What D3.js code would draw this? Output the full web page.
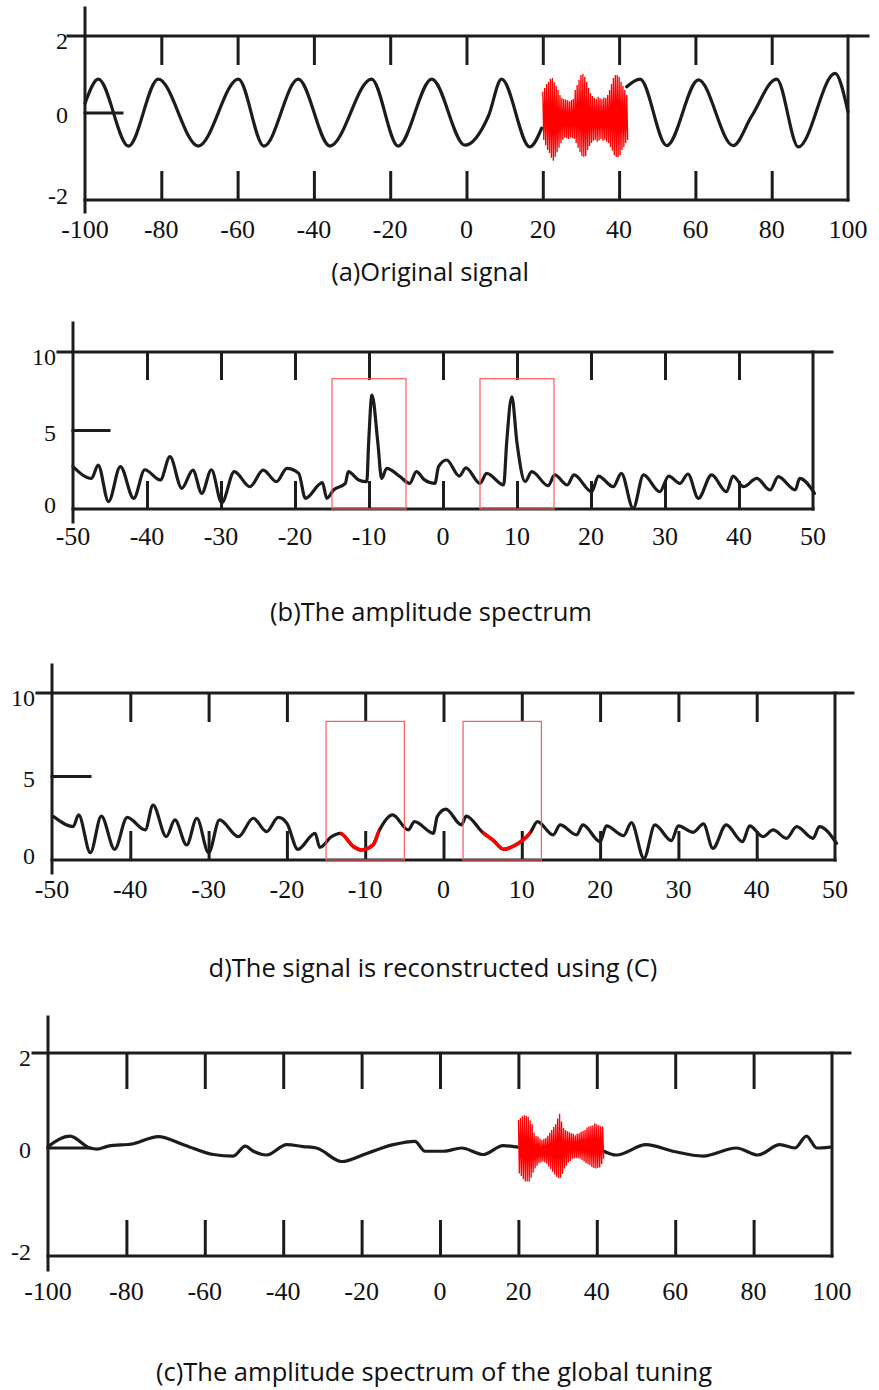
<!DOCTYPE html>
<html>
<head>
<meta charset="utf-8">
<script src="https://cdnjs.cloudflare.com/ajax/libs/d3/7.8.5/d3.min.js"></script>
<style>
    body { margin: 0; background: #fff; }
    .lbl { font-family: "Liberation Serif", "Times New Roman", serif; fill: #111; }
    .cap { font-family: "Open Sans", sans-serif; fill: #111; }
</style>
</head>
<body>
<div id="chart"></div>
<script>
// ---- data ----
var ticksWide = [-100, -80, -60, -40, -20, 0, 20, 40, 60, 80, 100];
var ticksNarrow = [-50, -40, -30, -20, -10, 0, 10, 20, 30, 40, 50];
var yTicksSignal = [-2, 0, 2];
var yTicksSpec = [0, 5, 10];

// (a) original signal, black part (null = where the red burst is)
var signalA = [[-100, 0.25], [-96.5, 0.88], [-88.6, -0.76], [-80.8, 0.88], [-70.3, -0.76], [-59.8, 0.88],
    [-53.1, -0.76], [-44.1, 0.88], [-35.8, -0.76], [-24.9, 0.88], [-17.9, -0.76], [-9.1, 0.88],
    [-0.4, -0.74], [5.7, -0.08], [9.2, 0.88], [16.6, -0.78], [19.7, -0.35], null,
    [42.0, 0.68], [45.5, 0.88], [52.5, -0.75], [60.8, 0.86], [69.9, -0.75], [74.7, -0.08],
    [81.3, 0.88], [87.0, -0.78], [96.6, 1.03], [100, 0.03]];

// red burst envelope, sampled every 0.5 from x = 20
var burstStart = 20, burstStep = 0.5;
var burstUpperA = [0.55, 0.65, 0.75, 0.81, 0.88, 0.91, 0.80, 0.70, 0.60, 0.47, 0.39, 0.36, 0.35, 0.33, 0.30,
    0.34, 0.36, 0.60, 0.73, 0.86, 0.99, 1.01, 0.94, 0.81, 0.65, 0.52, 0.44, 0.39, 0.37, 0.42,
    0.38, 0.36, 0.40, 0.39, 0.47, 0.60, 0.75, 0.91, 0.99, 0.99, 0.94, 0.81, 0.70, 0.60, 0.47];
var burstLowerA = [-0.62, -0.74, -0.85, -0.92, -1.03, -1.10, -1.01, -0.90, -0.80, -0.69, -0.62, -0.57, -0.58, -0.60, -0.56,
    -0.58, -0.60, -0.69, -0.80, -0.90, -0.99, -1.01, -0.99, -0.85, -0.76, -0.69, -0.64, -0.62, -0.66, -0.63,
    -0.60, -0.64, -0.62, -0.66, -0.69, -0.78, -0.87, -0.97, -1.01, -1.01, -0.97, -0.85, -0.78, -0.69, -0.62];

// (b) amplitude spectrum
var spectrumB = [[-50, 2.7], [-47.5, 1.95], [-46.6, 2.8], [-45.2, 0.47], [-43.6, 2.7], [-41.8, 0.68], [-40.3, 2.5],
    [-38.2, 1.85], [-36.9, 3.33], [-35.3, 1.32], [-33.8, 2.48], [-32.6, 1.0], [-31.3, 2.5], [-29.9, 0.4],
    [-28.2, 2.38], [-26.1, 1.42], [-24.3, 2.48], [-22.5, 1.74], [-21.1, 2.59], [-19.5, 2.27], [-18.6, 0.68],
    [-16.3, 1.68], [-15.7, 0.68], [-14.8, 1.21], [-13.2, 1.63], [-12.8, 2.38], [-11.4, 1.85], [-10.3, 1.74],
    [-10.05, 4.2], [-9.6, 7.26], [-8.8, 4.2], [-8.3, 1.95], [-7.6, 2.59], [-5.8, 2.06], [-4.5, 1.63], [-3.6, 2.38],
    [-2.5, 1.85], [-1.1, 1.63], [-0.6, 2.7], [0.5, 3.12], [2.2, 2.1], [3.1, 2.62], [5.0, 1.63], [5.9, 2.27],
    [8.2, 1.53], [8.6, 4.2], [9.3, 7.15], [10.0, 4.2], [11.1, 1.74], [12.0, 2.38], [14.2, 1.49], [15.1, 2.17],
    [16.8, 1.53], [17.7, 2.17], [20.1, 1.1], [21.0, 2.1], [23.0, 1.42], [24.1, 2.27], [25.7, 0.04], [27.1, 2.17],
    [29.3, 1.1], [30.5, 2.1], [32.0, 1.63], [33.1, 2.23], [34.5, 0.68], [36.3, 2.17], [38.3, 1.1], [39.2, 2.1],
    [40.6, 1.42], [42.4, 1.95], [44.2, 1.21], [45.3, 2.06], [47.6, 1.21], [48.2, 1.95], [50.2, 1.0]];
var boxesB = [[-15, -5], [5, 15]];
var boxTop = 8.3;

// (d) reconstructed signal, red where the boxes cut it
var reconD = [[-49.8, 2.6], [-47.3, 2.0], [-46.6, 2.7], [-45.1, 0.44], [-43.7, 2.63], [-42.0, 0.64], [-40.4, 2.55],
    [-38.1, 1.8], [-37.1, 3.29], [-35.4, 1.4], [-34.3, 2.4], [-32.8, 0.9], [-31.5, 2.5], [-30.0, 0.44],
    [-28.6, 2.4], [-26.2, 1.4], [-24.3, 2.5], [-22.6, 1.7], [-21.1, 2.55], [-20.0, 2.2], [-18.6, 0.64],
    [-16.4, 1.6], [-15.8, 0.76], [-14.3, 1.4], [-13.2, 1.6], [-11.5, 0.8], [-10.5, 0.6], [-9.0, 0.9],
    [-8.2, 1.76], [-6.5, 2.7], [-4.5, 1.8], [-3.7, 2.3], [-1.3, 1.6], [-0.8, 2.6], [0.3, 3.05], [2.3, 2.1],
    [2.9, 2.63], [4.98, 1.66], [6.3, 1.2], [7.7, 0.64], [9.0, 0.85], [11.1, 1.64], [12.0, 2.3], [14.0, 1.5],
    [14.9, 2.1], [17.0, 1.5], [17.8, 2.1], [20.0, 1.1], [20.8, 2.04], [23.0, 1.46], [24.0, 2.24], [25.6, 0.1],
    [27.0, 2.1], [29.1, 1.16], [30.0, 2.04], [31.9, 1.66], [33.2, 2.16], [34.4, 0.7], [36.1, 2.1], [38.2, 1.1],
    [39.1, 2.04], [40.8, 1.4], [42.1, 1.8], [43.8, 1.3], [45.1, 2.0], [47.2, 1.3], [48.0, 2.0], [50.2, 1.0]];
var redRangesD = [[-13.2, -8.2], [4.98, 11.1]];
var boxesD = [[-15, -5], [2.5, 12.5]];

// (c) global tuning result
var tunedC = [[-100, 0.03], [-94.4, 0.25], [-89.3, 0.0], [-87.6, -0.02], [-84.6, 0.04], [-78.2, 0.09],
    [-71.9, 0.24], [-65.1, 0.06], [-57.8, -0.12], [-52.7, -0.15], [-49.7, 0.04], [-47.6, -0.06],
    [-44.2, -0.13], [-39.1, 0.07], [-34.9, 0.03], [-31.5, 0.0], [-25.1, -0.25], [-18.7, -0.1],
    [-11.9, 0.07], [-6.4, 0.14], [-3.8, -0.06], [0.9, -0.06], [5.5, 0.0], [11.0, -0.12], [16.1, 0.05],
    [19.8, 0.02], null, [41.5, -0.05], [45, -0.13], [52.6, 0.07], [59.4, -0.06], [67.1, -0.15],
    [75.6, 0.0], [81.1, -0.13], [86.7, 0.07], [90.5, 0.0], [93.5, 0.25], [96.1, 0.0], [99.5, 0.02]];
var burstUpperC = [0.59, 0.63, 0.67, 0.69, 0.68, 0.66, 0.58, 0.50, 0.32, 0.25, 0.24, 0.20, 0.17, 0.19, 0.21,
    0.26, 0.32, 0.38, 0.44, 0.50, 0.62, 0.72, 0.56, 0.42, 0.38, 0.35, 0.33, 0.31, 0.30, 0.27,
    0.30, 0.31, 0.34, 0.36, 0.38, 0.43, 0.45, 0.47, 0.48, 0.52, 0.50, 0.48, 0.46, 0.45];
var burstLowerC = [-0.47, -0.52, -0.58, -0.62, -0.62, -0.62, -0.55, -0.46, -0.38, -0.33, -0.28, -0.27, -0.25, -0.27, -0.29,
    -0.34, -0.39, -0.44, -0.49, -0.53, -0.56, -0.55, -0.48, -0.38, -0.33, -0.27, -0.24, -0.20, -0.19, -0.19,
    -0.19, -0.20, -0.22, -0.25, -0.28, -0.30, -0.32, -0.35, -0.37, -0.38, -0.37, -0.36, -0.30, -0.20];

var captions = ["(a)Original signal", "(b)The amplitude spectrum",
    "d)The signal is reconstructed using (C)", "(c)The amplitude spectrum of the global tuning"];

// ---- drawing ----
var ink = "#1c1c1c";
var svg = d3.select("#chart").append("svg").attr("width", 879).attr("height", 1390);
var defs = svg.append("defs");

function frame(p) {
    var g = svg.append("g");
    var x = d3.scaleLinear().domain(p.xDomain).range([p.left, p.right]);
    var y = d3.scaleLinear().domain(p.yDomain).range(p.yRange);
    var inner = p.xTicks.slice(1, -1);

    // inner ticks hanging from the top line and standing on the bottom line
    g.append("g").attr("transform", "translate(0," + p.top + ")")
        .call(d3.axisBottom(x).tickValues(inner).tickSize(p.tickLen).tickSizeOuter(0).tickFormat(""));
    g.append("g").attr("transform", "translate(0," + p.bottom + ")")
        .call(d3.axisTop(x).tickValues(inner).tickSize(p.tickLen).tickSizeOuter(0).tickFormat(""));
    g.selectAll(".domain").remove();
    g.selectAll(".tick line").attr("stroke", ink).attr("stroke-width", 3);

    var lines = [
        [p.lineStart, p.top, p.lineEnd, p.top],
        [p.left, p.bottom, p.right, p.bottom],
        [p.left, p.axisTop, p.left, p.axisBottom],
        [p.right, p.top, p.right, p.bottom],
        [p.left, y(p.yMark), p.left + p.yMarkLen, y(p.yMark)]
    ];
    g.selectAll(".fr").data(lines).enter().append("line")
        .attr("x1", function(d) { return d[0]; }).attr("y1", function(d) { return d[1]; })
        .attr("x2", function(d) { return d[2]; }).attr("y2", function(d) { return d[3]; })
        .attr("stroke", ink).attr("stroke-width", 3).attr("stroke-linecap", "square");

    g.selectAll(".xl").data(p.xTicks).enter().append("text")
        .attr("class", "lbl").attr("font-size", 26).attr("text-anchor", "middle")
        .attr("x", function(d) { return x(d); }).attr("y", p.labelBase)
        .text(function(d) { return d; });

    var yMin = d3.min(p.yTicks), yMax = d3.max(p.yTicks);
    g.selectAll(".yl").data(p.yTicks).enter().append("text")
        .attr("class", "lbl").attr("font-size", 24).attr("text-anchor", "end")
        .attr("x", p.left - 17)
        .attr("y", function(d) { return y(d) + (d === yMax ? 13 : d === yMin ? 4 : 10); })
        .text(function(d) { return d; });

    svg.append("text").attr("class", "cap").attr("font-size", 25.5).attr("text-anchor", "middle")
        .attr("x", p.capX).attr("y", p.capY).text(p.caption);

    return {x: x, y: y, g: g};
}

function curve(s, data, color, width) {
    var line = d3.line()
        .defined(function(d) { return d !== null; })
        .x(function(d) { return s.x(d[0]); })
        .y(function(d) { return s.y(d[1]); })
        .curve(d3.curveMonotoneX);
    return s.g.append("path").datum(data).attr("d", line)
        .attr("fill", "none").attr("stroke", color).attr("stroke-width", width)
        .attr("stroke-linejoin", "round").attr("stroke-linecap", "round");
}

function burst(s, upper, lower) {
    var pts = [];
    upper.forEach(function(u, i) {
        var bx = burstStart + i * burstStep;
        pts.push([bx, u]);
        pts.push([bx + burstStep / 2, lower[i]]);
    });
    s.g.append("path").datum(pts)
        .attr("d", d3.line().x(function(d) { return s.x(d[0]); }).y(function(d) { return s.y(d[1]); }))
        .attr("fill", "none").attr("stroke", "#ff0000").attr("stroke-width", 1.3);
}

function boxes(s, list) {
    s.g.selectAll(".box").data(list).enter().append("rect")
        .attr("x", function(d) { return s.x(d[0]); })
        .attr("y", s.y(boxTop))
        .attr("width", function(d) { return s.x(d[1]) - s.x(d[0]); })
        .attr("height", s.y(0) - s.y(boxTop))
        .attr("fill", "none").attr("stroke", "#ff5a5a").attr("stroke-width", 1.2);
}

// (a)
var pa = frame({xDomain: [-100, 100], yDomain: [-2, 0, 2], yRange: [200, 113, 36],
    left: 85, right: 848, top: 36, bottom: 200, axisTop: 8, axisBottom: 212,
    lineStart: 68, lineEnd: 868, tickLen: 29, xTicks: ticksWide, yTicks: yTicksSignal,
    yMark: 0, yMarkLen: 37, labelBase: 238, caption: captions[0], capX: 430, capY: 281});
curve(pa, signalA, ink, 3.2);
burst(pa, burstUpperA, burstLowerA);

// (b)
var pb = frame({xDomain: [-50, 50], yDomain: [0, 10], yRange: [509, 352],
    left: 73, right: 813, top: 352, bottom: 509, axisTop: 323, axisBottom: 522,
    lineStart: 58, lineEnd: 832, tickLen: 28, xTicks: ticksNarrow, yTicks: yTicksSpec,
    yMark: 5, yMarkLen: 36, labelBase: 545, caption: captions[1], capX: 431, capY: 621});
curve(pb, spectrumB, ink, 3.2);
boxes(pb, boxesB);

// (d)
var pd = frame({xDomain: [-50, 50], yDomain: [0, 10], yRange: [860, 693],
    left: 52, right: 835, top: 693, bottom: 860, axisTop: 665, axisBottom: 873,
    lineStart: 37, lineEnd: 853, tickLen: 29, xTicks: ticksNarrow, yTicks: yTicksSpec,
    yMark: 5, yMarkLen: 38, labelBase: 898, caption: captions[2], capX: 433, capY: 977});
curve(pd, reconD, ink, 3.2);
var clip = defs.append("clipPath").attr("id", "redpart");
clip.selectAll("rect").data(redRangesD).enter().append("rect")
    .attr("x", function(d) { return pd.x(d[0]); })
    .attr("width", function(d) { return pd.x(d[1]) - pd.x(d[0]); })
    .attr("y", 650).attr("height", 240);
curve(pd, reconD, "#ff0000", 3.6).attr("clip-path", "url(#redpart)");
boxes(pd, boxesD);

// (c)
var pc = frame({xDomain: [-100, 100], yDomain: [-2, 0, 2], yRange: [1256, 1148, 1053],
    left: 48, right: 832, top: 1053, bottom: 1256, axisTop: 1017, axisBottom: 1270,
    lineStart: 33, lineEnd: 850, tickLen: 36, xTicks: ticksWide, yTicks: yTicksSignal,
    yMark: 0, yMarkLen: 42, labelBase: 1300, caption: captions[3], capX: 434, capY: 1381});
curve(pc, tunedC, ink, 3.2);
burst(pc, burstUpperC, burstLowerC);
</script>
</body>
</html>
